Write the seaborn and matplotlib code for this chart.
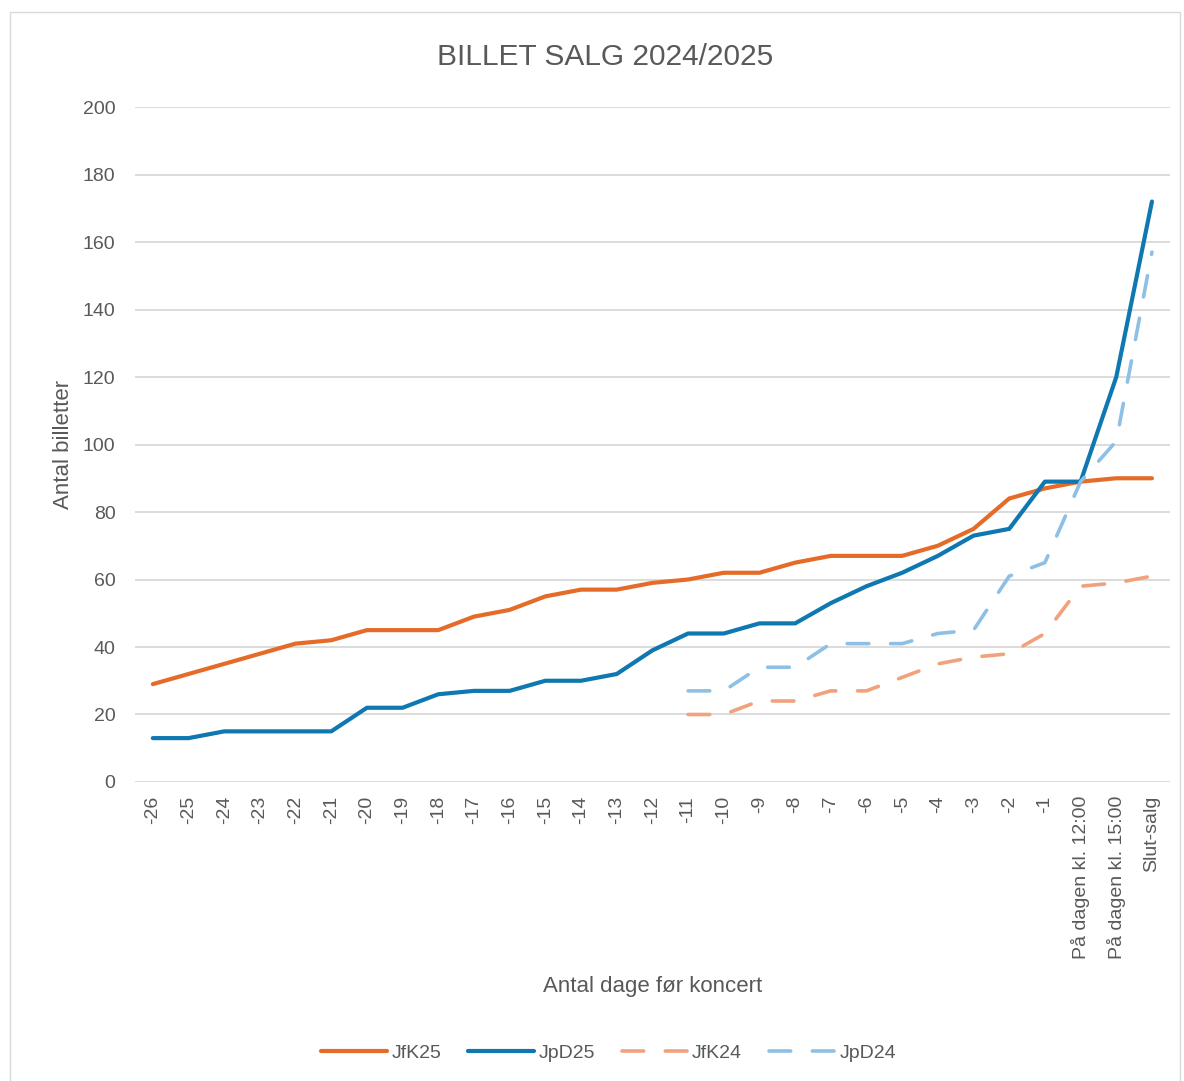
import numpy as np
import pandas as pd
import matplotlib.pyplot as plt
import seaborn as sns
from matplotlib.patches import Rectangle

# x categories (days before concert)
categories = [str(d) for d in range(-26, 0)] + ["På dagen kl. 12:00", "På dagen kl. 15:00", "Slut-salg"]

nan = np.nan
jfk25 = [29, 32, 35, 38, 41, 42, 45, 45, 45, 49, 51, 55, 57, 57, 59, 60, 62, 62, 65, 67,
         67, 67, 70, 75, 84, 87, 89, 90, 90]
jpd25 = [13, 13, 15, 15, 15, 15, 22, 22, 26, 27, 27, 30, 30, 32, 39, 44, 44, 47, 47, 53,
         58, 62, 67, 73, 75, 89, 89, 120, 172]
jfk24 = [nan] * 15 + [20, 20, 24, 24, 27, 27, 31, 35, 37, 38, 44, 58, 59, 61]
jpd24 = [nan] * 15 + [27, 27, 34, 34, 41, 41, 41, 44, 45, 61, 65, 89, 101, 157]

series = ["JfK25", "JpD25", "JfK24", "JpD24"]
colors = {"JfK25": "#E46C28", "JpD25": "#0F78B0", "JfK24": "#F1A27C", "JpD24": "#8EC0E6"}

df = pd.DataFrame({"pos": range(len(categories)), "JfK25": jfk25, "JpD25": jpd25,
                   "JfK24": jfk24, "JpD24": jpd24})
long = df.melt(id_vars="pos", var_name="serie", value_name="antal").dropna()

sns.set_style("white")
plt.rcParams["font.family"] = ["Liberation Sans", "DejaVu Sans"]

fig = plt.figure(figsize=(11.84, 10.81), dpi=100)
ax = fig.add_axes([0.114, 0.2766, 0.874, 0.6244])

for name in series:
    sub = long[long["serie"] == name]
    dashed = name.endswith("24")
    sns.lineplot(data=sub, x="pos", y="antal", ax=ax, color=colors[name],
                 linewidth=2.6 if dashed else 3.0, label=name, legend=False,
                 solid_capstyle="round", dash_capstyle="round")
    if dashed:
        ax.lines[-1].set_dashes((6, 6))

ax.set_xlim(-0.5, len(categories) - 0.5)
ax.set_ylim(0, 200)
ax.set_yticks(range(0, 201, 20))
ax.set_xticks(range(len(categories)))
ax.set_xticklabels(categories, rotation=90, va="top", ha="center")
ax.tick_params(axis="both", length=0, labelsize=14, colors="#595959")
ax.tick_params(axis="x", pad=10)
ax.tick_params(axis="y", pad=14)
ax.yaxis.grid(True, color="#D9D9D9", linewidth=1.3)
ax.set_axisbelow(True)
for s in ax.spines.values():
    s.set_visible(False)

ax.set_xlabel("Antal dage før koncert", fontsize=16, color="#595959", labelpad=12)
ax.set_ylabel("Antal billetter", fontsize=16, color="#595959", labelpad=6)
fig.text(0.511, 0.947, "BILLET SALG 2024/2025", fontsize=21.5, color="#595959",
         ha="center", va="center")

handles, labels = ax.get_legend_handles_labels()
fig.legend(handles, labels, loc="center", bbox_to_anchor=(0.514, 0.026), ncol=4,
           frameon=False, fontsize=14, handlelength=3.4, columnspacing=1.4,
           handletextpad=0.2, labelcolor="#595959")

fig.patches.append(Rectangle((10 / 1184, -0.01), 1170 / 1184, 1 - 12 / 1081 + 0.01,
                             transform=fig.transFigure, fill=False,
                             edgecolor="#D9D9D9", linewidth=1.0))

fig.savefig("out.png", dpi=100, facecolor="white")
